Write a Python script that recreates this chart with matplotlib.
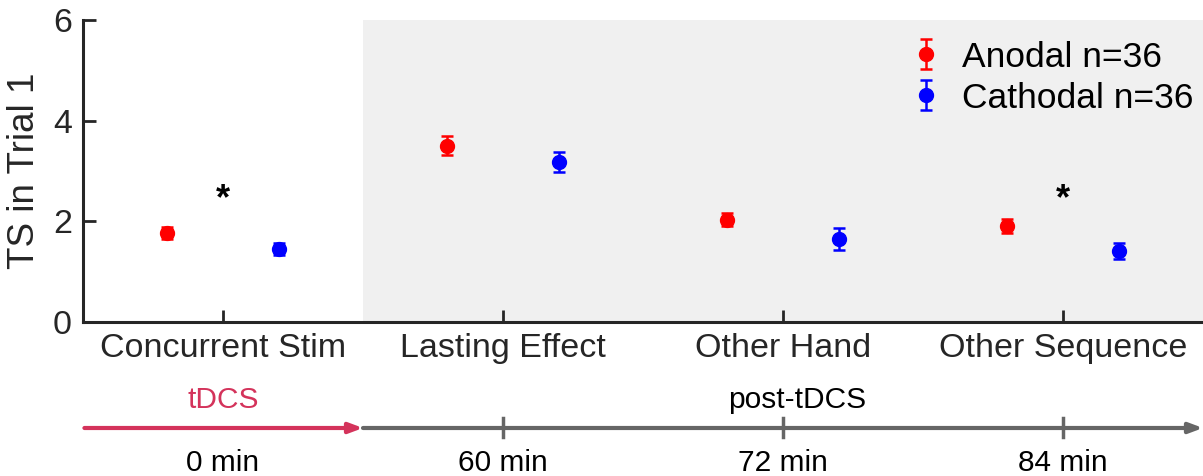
import numpy as np
import matplotlib
matplotlib.use('Agg')
import matplotlib.pyplot as plt
from matplotlib.legend_handler import HandlerErrorbar

plt.rcParams['font.family'] = ['Liberation Sans', 'DejaVu Sans']

conditions = ['Concurrent Stim', 'Lasting Effect', 'Other Hand', 'Other Sequence']
times = ['0 min', '60 min', '72 min', '84 min']
anodal_mean = [1.77, 3.50, 2.03, 1.91]
anodal_err = [0.12, 0.19, 0.13, 0.14]
cathodal_mean = [1.45, 3.18, 1.65, 1.41]
cathodal_err = [0.12, 0.19, 0.21, 0.16]
star_pos = [1, 4]
star_height = 2.43


def tsPlot():
    fig = plt.figure(figsize=(12.03, 4.76), dpi=100)
    ax = fig.add_axes([0.069, 0.3235, 0.931, 0.6345])
    x = np.arange(1, len(conditions) + 1)

    ax.axvspan(1.5, 4.5, color='#f0f0f0', zorder=0, lw=0)

    eb1 = ax.errorbar(x - 0.2, anodal_mean, yerr=anodal_err, fmt='o', color='red',
                      markersize=10, capsize=4.5, elinewidth=1.8, capthick=1.8,
                      label='Anodal n=36', zorder=3)
    eb2 = ax.errorbar(x + 0.2, cathodal_mean, yerr=cathodal_err, fmt='o', color='blue',
                      markersize=10, capsize=4.5, elinewidth=1.8, capthick=1.8,
                      label='Cathodal n=36', zorder=3)
    for s in star_pos:
        ax.text(s, star_height, '*', ha='center', va='center', fontsize=26,
                fontweight='bold', color='black')

    ax.set_xlim(0.5, 4.5)
    ax.set_ylim(0, 6)
    ax.set_xticks(x)
    ax.set_xticklabels(conditions)
    ax.set_yticks([0, 2, 4, 6])
    ax.set_ylabel('TS in Trial 1', fontsize=26.5, color='#262626', labelpad=8)
    ax.tick_params(direction='in', length=9, width=2, labelsize=24.5,
                   colors='#262626', pad=8)
    for side in ['top', 'right']:
        ax.spines[side].set_visible(False)
    for side in ['left', 'bottom']:
        ax.spines[side].set_linewidth(2.2)
        ax.spines[side].set_color('#262626')
    ax.patch.set_visible(False)

    hm = {eb1: HandlerErrorbar(yerr_size=0.42), eb2: HandlerErrorbar(yerr_size=0.42)}
    ax.legend(loc='upper right', frameon=False, fontsize=25.5,
              handlelength=0.8, handletextpad=0.6, handler_map=hm,
              labelspacing=0.22, borderaxespad=0.1,
              bbox_to_anchor=(1.007, 0.99))

    # timeline strip under the axis
    tl = fig.add_axes([0.069, 0.0, 0.931, 106 / 476])
    tl.set_xlim(0.5, 4.5)
    tl.set_ylim(476, 370)
    tl.axis('off')
    tl.annotate('', xy=(1.5, 428), xytext=(0.505, 428),
                arrowprops=dict(arrowstyle='-|>,head_length=0.8,head_width=0.3',
                                color='#d4335b', lw=3, shrinkA=0, shrinkB=0))
    tl.annotate('', xy=(4.5, 428), xytext=(1.5, 428),
                arrowprops=dict(arrowstyle='-|>,head_length=0.8,head_width=0.3',
                                color='#666666', lw=3, shrinkA=0, shrinkB=0))
    for t in x[1:]:
        tl.plot([t, t], [418, 437], color='#666666', lw=2.5)
    for t, lab in zip(x, times):
        tl.text(t, 463, lab, ha='center', va='center', fontsize=21.5)
    tl.text(1.0, 400, 'tDCS', ha='center', va='center', fontsize=21.5,
            color='#d4335b')
    tl.text(3.05, 400, 'post-tDCS', ha='center', va='center', fontsize=21.5)

    fig.savefig('out.png', dpi=100)


if __name__ == '__main__':
    tsPlot()
